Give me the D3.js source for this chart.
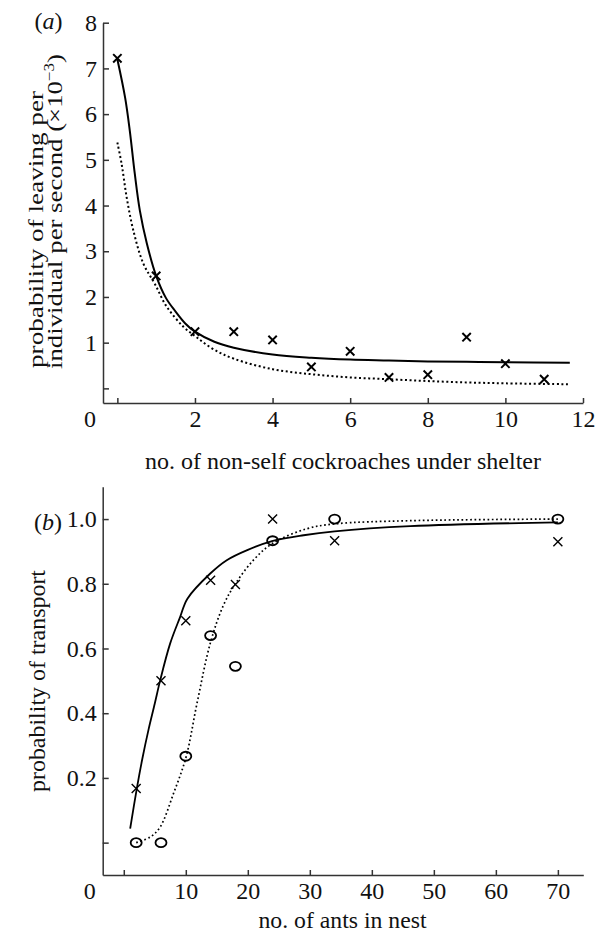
<!DOCTYPE html>
<html>
<head>
<meta charset="utf-8">
<script src="https://cdn.jsdelivr.net/npm/d3@7"></script>
<style>
  body { margin: 0; background: #fff; }
  svg, svg text { font-family: "Liberation Serif", "Times New Roman", Times, "DejaVu Serif", serif; }
  svg text { fill: #111; }
  .axis path, .axis line { stroke: #333; stroke-width: 1.5; }
  .axis text { font-size: 24px; }
</style>
</head>
<body>
<div id="chart"></div>
<script>
//------------------------------DATA------------------------------//
// panel (a): cockroaches
const aTicksX = [0, 2, 4, 6, 8, 10, 12];
const aTicksY = [0, 1, 2, 3, 4, 5, 6, 7, 8];
const aObsX = [0, 1, 2, 3, 4, 5, 6, 7, 8, 9, 10, 11];
const aObsY = [7.22, 2.46, 1.24, 1.24, 1.06, 0.47, 0.81, 0.24, 0.30, 1.12, 0.54, 0.20];
const aSolidX = [0, 0.2, 0.32, 0.45, 0.58, 0.76, 1.0, 1.25, 1.5, 1.75, 2.0, 2.5, 3, 4, 5, 6, 7, 8, 9, 10, 11.66];
const aSolidY = [7.2, 6.36, 5.64, 4.69, 3.89, 3.17, 2.46, 1.98, 1.68, 1.42, 1.24, 1.02, 0.89, 0.74, 0.67, 0.63, 0.61, 0.59, 0.58, 0.57, 0.56];
const aDotX = [0, 0.11, 0.24, 0.41, 0.67, 0.97, 1.27, 1.7, 2.04, 2.47, 3, 4, 5, 6, 7, 8, 9, 10, 11.66];
const aDotY = [5.38, 4.91, 4.18, 3.46, 2.73, 2.28, 1.79, 1.35, 1.12, 0.86, 0.65, 0.42, 0.31, 0.24, 0.2, 0.16, 0.13, 0.11, 0.09];

// panel (b): ants
const bTicksX = [0, 10, 20, 30, 40, 50, 60, 70];
const bTicksY = [0, 0.2, 0.4, 0.6, 0.8, 1.0];
const bCrossX = [2, 6, 10, 14, 18, 24, 34, 70];
const bCrossY = [0.167, 0.5, 0.686, 0.811, 0.798, 1.0, 0.933, 0.93];
const bCircX = [2, 6, 10, 14, 18, 24, 34, 70];
const bCircY = [0, 0, 0.267, 0.64, 0.545, 0.933, 1.0, 1.0];
const bSolidX = [1.03, 2.1, 3, 4, 5, 5.85, 7.47, 9.08, 10.26, 13.9, 16.6, 20, 23.9, 29, 34, 46.2, 70];
const bSolidY = [0.043, 0.167, 0.26, 0.35, 0.43, 0.5, 0.615, 0.697, 0.754, 0.831, 0.873, 0.905, 0.932, 0.95, 0.962, 0.978, 0.99];
const bDotX = [2, 4.24, 5.85, 8, 10.05, 11.8, 14, 16.1, 18, 20.9, 24, 29.5, 34, 46.2, 70];
const bDotY = [0, 0.017, 0.048, 0.151, 0.265, 0.43, 0.62, 0.735, 0.8, 0.873, 0.925, 0.97, 0.985, 0.995, 1.0];

//------------------------------SVG-------------------------------//
const width = 605;
const height = 934;
const serif = "'Liberation Serif', 'Times New Roman', Times, serif";
const svg = d3.select("#chart").append("svg")
    .attr("width", width)
    .attr("height", height)
    .attr("font-family", serif);

const zip = (xs, ys) => xs.map((x, i) => ({x: x, y: ys[i]}));

//--------------------------PANEL DRAWING-------------------------//
function panel(opt) {
    const x = d3.scaleLinear().domain(opt.xDomain).range([opt.left, opt.right]);
    const y = d3.scaleLinear().domain(opt.yDomain).range([opt.bottom, opt.top]);

    const xaxis = d3.axisBottom(x)
        .tickValues(opt.ticksX)
        .tickFormat(d => d === 0 ? "" : d)
        .tickSizeInner(-5)
        .tickSizeOuter(0)
        .tickPadding(7);
    const yaxis = d3.axisLeft(y)
        .tickValues(opt.ticksY)
        .tickFormat(d => d === 0 ? "" : opt.fmt(d))
        .tickSizeInner(-6)
        .tickSizeOuter(0)
        .tickPadding(6);

    svg.append("g")
        .attr("class", "axis")
        .attr("transform", "translate(0," + opt.bottom + ")")
        .call(xaxis)
        .attr("font-family", serif);
    svg.append("g")
        .attr("class", "axis")
        .attr("transform", "translate(" + opt.left + ",0)")
        .call(yaxis)
        .attr("font-family", serif);

    // shared origin label
    svg.append("text")
        .attr("x", opt.left - 13)
        .attr("y", opt.bottom + 24)
        .attr("text-anchor", "middle")
        .style("font-size", "24px")
        .text("0");

    const line = d3.line()
        .x(d => x(d.x))
        .y(d => y(d.y))
        .curve(d3.curveCatmullRom.alpha(0.5));

    svg.append("path")
        .attr("d", line(opt.solid))
        .attr("fill", "none")
        .attr("stroke", "#000")
        .attr("stroke-width", opt.lw);
    svg.append("path")
        .attr("d", line(opt.dotted))
        .attr("fill", "none")
        .attr("stroke", "#000")
        .attr("stroke-width", opt.dw)
        .attr("stroke-dasharray", opt.dash);

    const s = opt.cross;
    svg.append("g").selectAll("path")
        .data(opt.crosses)
        .enter()
        .append("path")
        .attr("d", d => {
            const cx = x(d.x), cy = y(d.y);
            return "M" + (cx - s) + "," + (cy - s) + "L" + (cx + s) + "," + (cy + s) +
                   "M" + (cx - s) + "," + (cy + s) + "L" + (cx + s) + "," + (cy - s);
        })
        .attr("stroke", "#000")
        .attr("stroke-width", opt.cw);

    if (opt.circles) {
        svg.append("g").selectAll("ellipse")
            .data(opt.circles)
            .enter()
            .append("ellipse")
            .attr("cx", d => x(d.x))
            .attr("cy", d => y(d.y))
            .attr("rx", 5.5)
            .attr("ry", 4.5)
            .attr("fill", "none")
            .attr("stroke", "#000")
            .attr("stroke-width", 1.8);
    }
}

panel({
    left: 103, right: 583, top: 22.7, bottom: 403,
    xDomain: [-0.37, 12], yDomain: [-0.32, 8],
    ticksX: aTicksX, ticksY: aTicksY, fmt: d => d,
    solid: zip(aSolidX, aSolidY), dotted: zip(aDotX, aDotY),
    lw: 2, dw: 2, dash: "2,2.6",
    crosses: zip(aObsX, aObsY), cross: 4.2, cw: 2
});

panel({
    left: 102.7, right: 583.3, top: 486.7, bottom: 875,
    xDomain: [-3.4, 74.1], yDomain: [-0.1, 1.1],
    ticksX: bTicksX, ticksY: bTicksY, fmt: d3.format(".1f"),
    solid: zip(bSolidX, bSolidY), dotted: zip(bDotX, bDotY),
    lw: 1.8, dw: 1.7, dash: "1.7,2.6",
    crosses: zip(bCrossX, bCrossY), cross: 4.5, cw: 1.4,
    circles: zip(bCircX, bCircY)
});

//------------------------------LABELS----------------------------//
function panelTag(x, y, letter) {
    const t = svg.append("text")
        .attr("x", x).attr("y", y)
        .attr("text-anchor", "middle")
        .style("font-size", "24px");
    t.append("tspan").text("(");
    t.append("tspan").style("font-style", "italic").text(letter);
    t.append("tspan").text(")");
}
panelTag(48.5, 29, "a");
panelTag(48, 530, "b");

svg.append("text")
    .attr("x", 343).attr("y", 469)
    .attr("text-anchor", "middle")
    .attr("textLength", 396).attr("lengthAdjust", "spacingAndGlyphs")
    .style("font-size", "24px")
    .text("no. of non-self cockroaches under shelter");

svg.append("text")
    .attr("x", 342.5).attr("y", 928)
    .attr("text-anchor", "middle")
    .attr("textLength", 168).attr("lengthAdjust", "spacingAndGlyphs")
    .style("font-size", "24px")
    .text("no. of ants in nest");

svg.append("text")
    .attr("transform", "translate(43,368) rotate(-90)")
    .attr("textLength", 277).attr("lengthAdjust", "spacingAndGlyphs")
    .style("font-size", "22px")
    .text("probability of leaving per");

const yl2 = svg.append("text")
    .attr("transform", "translate(62,369) rotate(-90)")
    .attr("textLength", 315).attr("lengthAdjust", "spacingAndGlyphs")
    .style("font-size", "22px");
yl2.append("tspan").text("individual per second (×10");
yl2.append("tspan").attr("dy", -8).style("font-size", "14px").text("−3");
yl2.append("tspan").attr("dy", 8).text(")");

svg.append("text")
    .attr("transform", "translate(45,681) rotate(-90)")
    .attr("text-anchor", "middle")
    .attr("textLength", 222).attr("lengthAdjust", "spacingAndGlyphs")
    .style("font-size", "24px")
    .text("probability of transport");
</script>
</body>
</html>
